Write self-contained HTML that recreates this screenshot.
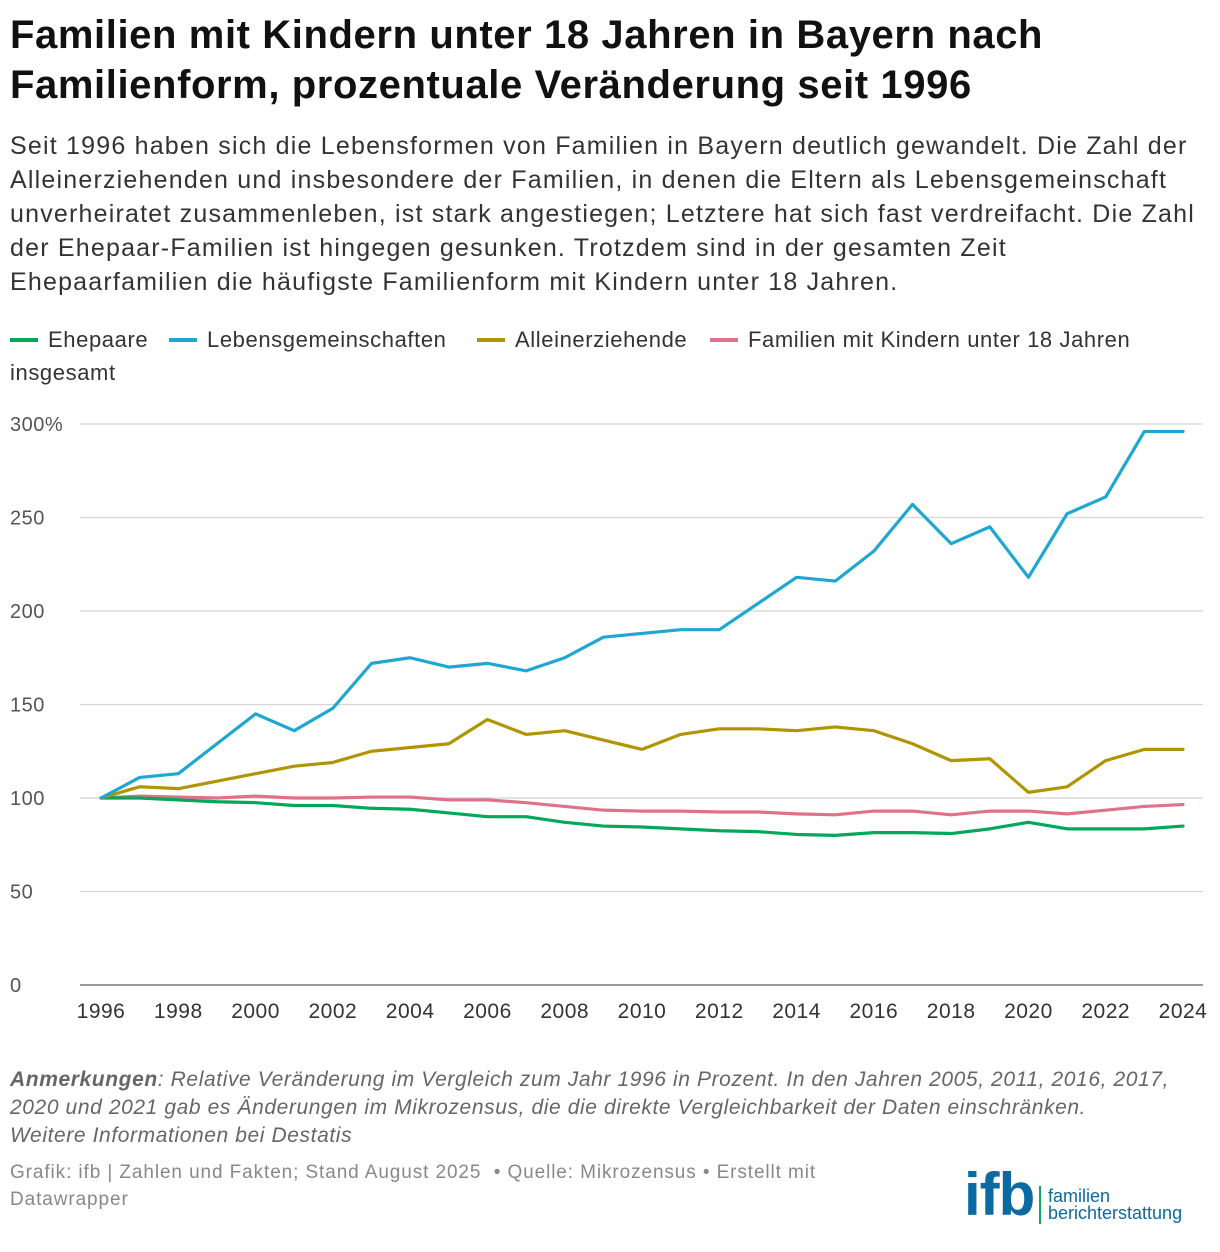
<!DOCTYPE html>
<html><head><meta charset="utf-8"><style>
body{margin:0;background:#fff;font-family:"Liberation Sans",sans-serif;color:#222;}
#wrap{position:relative;width:1220px;height:1252px;overflow:hidden}
h1{position:absolute;left:10px;top:10px;margin:0;font-size:40px;line-height:50px;font-weight:bold;color:#111;letter-spacing:0.6px;white-space:nowrap}
.desc{position:absolute;left:10px;top:129px;font-size:25px;line-height:34px;color:#333;letter-spacing:1.2px;white-space:nowrap}
.li{position:absolute;top:323px;font-size:22px;line-height:34px;color:#333;letter-spacing:0.6px;white-space:nowrap}
.sw{position:absolute;width:28px;height:4px;top:15px;left:-38px}
.note{position:absolute;left:10px;top:1066px;font-size:21px;line-height:28px;color:#666;font-style:italic;white-space:nowrap;letter-spacing:0.6px}
.src{position:absolute;left:10px;top:1159px;font-size:19px;line-height:27px;color:#888;white-space:nowrap;letter-spacing:0.9px}
</style></head><body><div id="wrap">
<h1>Familien mit Kindern unter 18 Jahren in Bayern nach<br>Familienform, prozentuale Veränderung seit 1996</h1>
<div class="desc">Seit 1996 haben sich die Lebensformen von Familien in Bayern deutlich gewandelt. Die Zahl der<br>Alleinerziehenden und insbesondere der Familien, in denen die Eltern als Lebensgemeinschaft<br>unverheiratet zusammenleben, ist stark angestiegen; Letztere hat sich fast verdreifacht. Die Zahl<br>der Ehepaar-Familien ist hingegen gesunken. Trotzdem sind in der gesamten Zeit<br>Ehepaarfamilien die häufigste Familienform mit Kindern unter 18 Jahren.</div>
<span class="li" style="left:48px"><span class="sw" style="background:#00a85a"></span>Ehepaare</span>
<span class="li" style="left:207px"><span class="sw" style="background:#1ea7d0"></span>Lebensgemeinschaften</span>
<span class="li" style="left:515px"><span class="sw" style="background:#b19500"></span>Alleinerziehende</span>
<span class="li" style="left:748px"><span class="sw" style="background:#e0718a"></span>Familien mit Kindern unter 18 Jahren</span>
<span class="li" style="left:10px;top:356px">insgesamt</span>
<svg id="chart" style="position:absolute;left:0;top:0" width="1220" height="1060"></svg>
<div class="note"><b>Anmerkungen</b>: Relative Veränderung im Vergleich zum Jahr 1996 in Prozent. In den Jahren 2005, 2011, 2016, 2017,<br>2020 und 2021 gab es Änderungen im Mikrozensus, die die direkte Vergleichbarkeit der Daten einschränken.<br>Weitere Informationen bei Destatis</div>
<div class="src">Grafik: ifb | Zahlen und Fakten; Stand August 2025 &nbsp;• Quelle: Mikrozensus • Erstellt mit<br>Datawrapper</div>
<div style="position:absolute;left:964px;top:1170px;width:250px;height:60px">
<span style="position:absolute;left:0;top:-10px;font-size:60px;font-weight:bold;color:#0a6aa1;letter-spacing:-1px">ifb</span>
<span style="position:absolute;left:75px;top:16px;width:2px;height:38px;background:#16a85a"></span>
<span style="position:absolute;left:84px;top:18px;font-size:18px;line-height:17px;color:#0a6aa1">familien<br>berichterstattung</span>
</div>
</div>
<script>
const years=[1996,1997,1998,1999,2000,2001,2002,2003,2004,2005,2006,2007,2008,2009,2010,2011,2012,2013,2014,2015,2016,2017,2018,2019,2020,2021,2022,2023,2024];
const ehepaare=[100,100,99,98,97.5,96,96,94.5,94,92,90,90,87,85,84.5,83.5,82.5,82,80.5,80,81.5,81.5,81,83.5,87,83.5,83.5,83.5,85];
const lebensgemeinschaften=[100,111,113,129,145,136,148,172,175,170,172,168,175,186,188,190,190,204,218,216,232,257,236,245,218,252,261,296,296];
const alleinerziehende=[100,106,105,109,113,117,119,125,127,129,142,134,136,131,126,134,137,137,136,138,136,129,120,121,103,106,120,126,126];
const gesamt=[100,101,100.5,100,101,100,100,100.5,100.5,99,99,97.5,95.5,93.5,93,93,92.5,92.5,91.5,91,93,93,91,93,93,91.5,93.5,95.5,96.5];
const yTicks=[0,50,100,150,200,250,300];
const xTicks=[1996,1998,2000,2002,2004,2006,2008,2010,2012,2014,2016,2018,2020,2022,2024];
const NS='http://www.w3.org/2000/svg';
const svg=document.getElementById('chart');
const x=v=>101+(v-1996)*(1183-101)/28;
const y=v=>985-v*(985-424)/300;
function mk(t,a){const e=document.createElementNS(NS,t);for(const k in a)e.setAttribute(k,a[k]);svg.appendChild(e);return e;}
yTicks.forEach(t=>{
  const lab=t===300?'300%':String(t);
  const l=mk('line',{x1:80,x2:1203,y1:y(t),y2:y(t),stroke:t===0?'#333':'#d4d4d4','stroke-width':t===0?1:1.3});
  
  
  const tx=mk('text',{x:10,y:y(t)+7,'font-size':20,fill:'#555','font-family':'Liberation Sans, sans-serif','letter-spacing':'0.5'});
  tx.textContent=lab;
  
  
});
xTicks.forEach(t=>{
  const tx=mk('text',{x:x(t),y:1018,'font-size':21,fill:'#333','text-anchor':'middle','font-family':'Liberation Sans, sans-serif','letter-spacing':'0.5'});
  tx.textContent=t;
  
  
});
[[gesamt,'#e0718a','line-gesamt'],[ehepaare,'#00a85a','line-ehepaare'],[alleinerziehende,'#b19500','line-alleinerziehende'],[lebensgemeinschaften,'#1ea7d0','line-lebensgemeinschaften']].forEach(([d,c,n])=>{
  const p=mk('polyline',{points:d.map((v,i)=>x(years[i])+','+y(v)).join(' '),fill:'none',stroke:c,'stroke-width':3.2,'stroke-linejoin':'round','stroke-linecap':'round'});
  
  
});
</script>
</body></html>
